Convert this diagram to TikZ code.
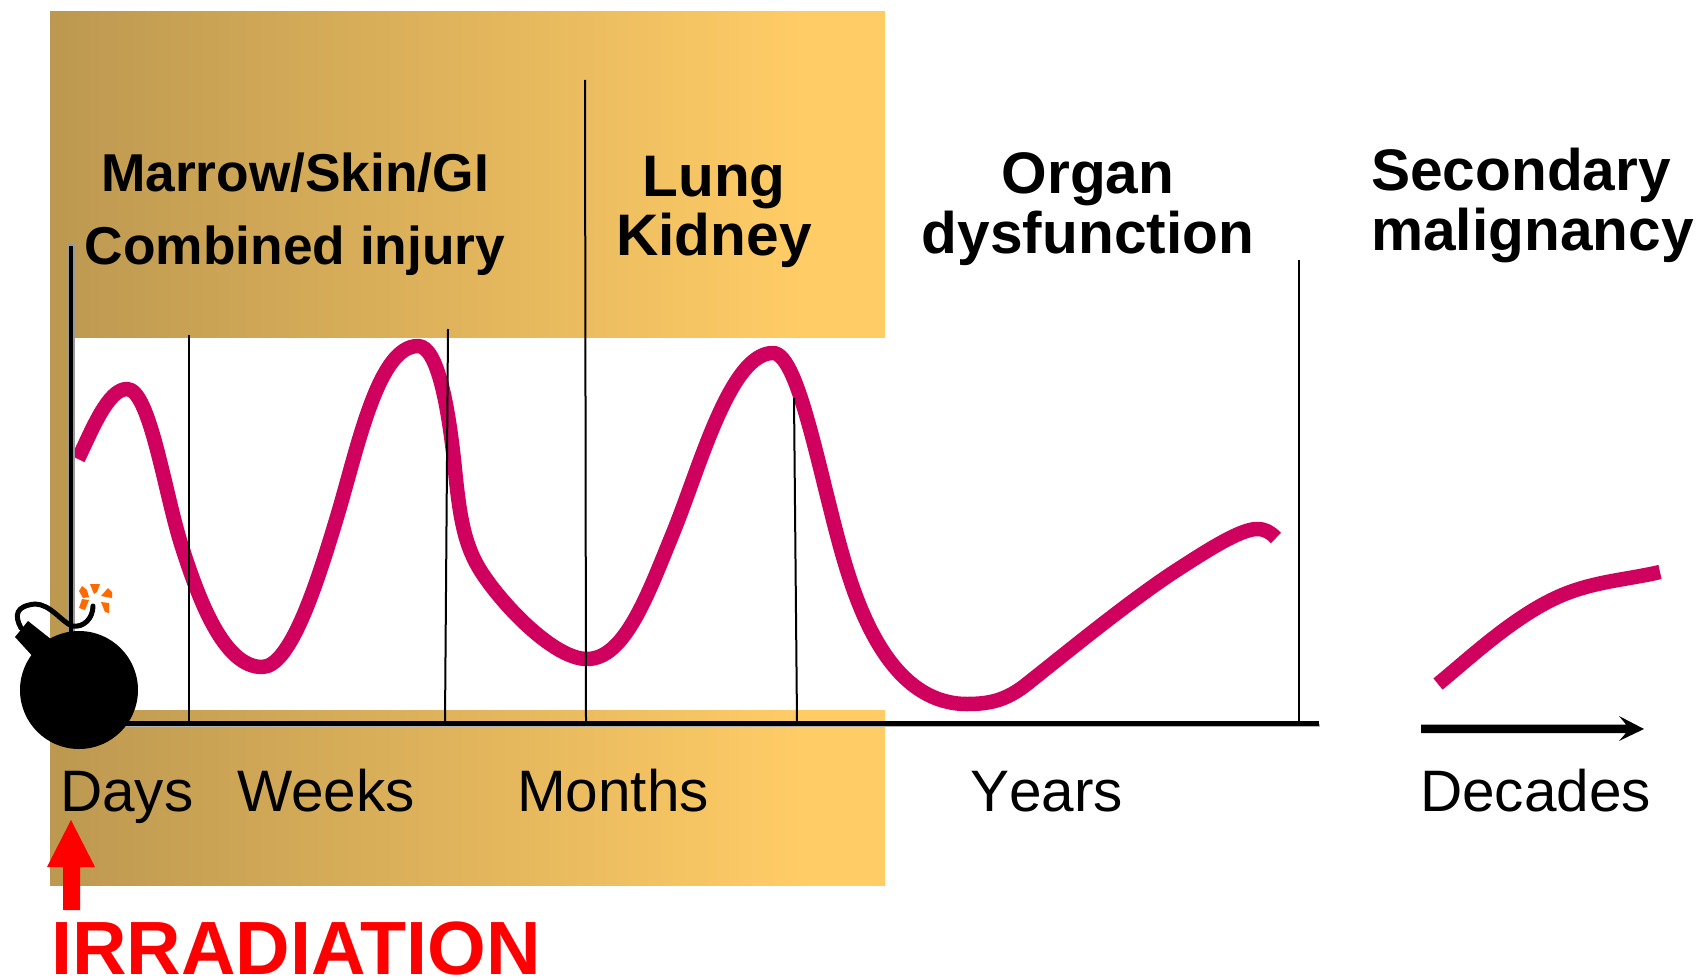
\documentclass[tikz,border=0pt]{standalone}
\usepackage{fontspec}
\setmainfont{Liberation Sans}
\tikzset{
  thinline/.style={black,line width=2pt},
  curve/.style={draw=curvecol,line width=14.5pt,line cap=butt,line join=round},
  head/.style={inner sep=0pt,font=\bfseries\fontsize{53.3}{64}\selectfont,align=center},
  bighead/.style={inner sep=0pt,font=\bfseries\fontsize{58.6}{59}\selectfont,align=center},
  lab/.style={inner sep=0pt,anchor=base west,font=\fontsize{58.5}{68}\selectfont},
  spark/.style={fill=sparkcol,draw=none}
}
\definecolor{curvecol}{HTML}{CF005E}
\definecolor{sparkcol}{HTML}{FF6A00}
\definecolor{gl}{HTML}{BC9850}
\definecolor{gr}{HTML}{FFCC66}
\pgfdeclarehorizontalshading{panelband}{100bp}{color(0bp)=(gl); color(25bp)=(gl); color(70bp)=(gr); color(100bp)=(gr)}
\begin{document}
\begin{tikzpicture}[x=1pt,y=-1pt]
\useasboundingbox (0,0) rectangle (1697,979);
% gradient panel
\shade[shading=panelband] (50,12) rectangle (885,885);
\fill[white] (70,338) rectangle (886,710);
% curves
\draw[curve] (78,459) .. controls (92,430) and (108,389) .. (127,389)
  .. controls (150,389) and (165,495) .. (182,547)
  .. controls (199,600) and (224,667) .. (262,667)
  .. controls (290,667) and (316,587) .. (337,517)
  .. controls (358,447) and (378,346) .. (418,346)
  .. controls (438,346) and (449,410) .. (455,470)
  .. controls (460,520) and (465,547) .. (482,573)
  .. controls (505,608) and (555,659) .. (587,659)
  .. controls (625,659) and (648,594) .. (673,533)
  .. controls (700,467) and (730,353) .. (773,353)
  .. controls (800,353) and (822,490) .. (847,570)
  .. controls (866,631) and (900,704) .. (967,704)
  .. controls (990,704) and (1005,700) .. (1023,687)
  .. controls (1060,658) and (1130,600) .. (1180,568)
  .. controls (1205,552) and (1240,529) .. (1257,529)
  .. controls (1265,529) and (1270,532) .. (1276,538);
\draw[curve] (1438,684) .. controls (1470,658) and (1520,610) .. (1570,592)
  .. controls (1600,581) and (1630,579) .. (1660,572);
% verticals
\fill[gray!80] (67.5,243.5) rectangle (75,632);
\fill[black] (68.5,246) rectangle (73,640);
\draw[thinline] (189,335) -- (189,722);
\draw[thinline] (448,329) -- (445,722);
\draw[thinline] (585,80) -- (586,722);
\draw[thinline] (794,398) -- (797,722);
\draw[thinline] (1299,260) -- (1299,722);
% axis
\fill[gray!60] (110,724) rectangle (1320,727);
\draw[black,line width=4.5pt] (110,723.3) -- (1319,723.3);
% decades arrow
\fill[black] (1421,724.5) -- (1626,724.5) -- (1619,716) -- (1644,729) -- (1619,741) -- (1626,733) -- (1421,733) -- cycle;
% bomb
\fill[black] (79,690) circle (59);
\fill[black] (15,637) -- (28,621) -- (52,640) -- (36,660) -- cycle;
\draw[black,line width=5pt,line cap=round] (21,628) .. controls (14,615) and (16,606) .. (35,604)
  .. controls (50,604) and (62,622) .. (72,626)
  .. controls (84,628) and (93,618) .. (93,606);
\fill[spark] (82,586) -- (87,590) -- (89,597) -- (83,598) -- (79,591) -- cycle;
\fill[spark] (90,584) -- (100,584) -- (97,592) -- (94,594) -- cycle;
\fill[spark] (108,588) -- (112,592) -- (112,598) -- (101,596) -- cycle;
\fill[spark] (82,599) -- (89,600) -- (85,610) -- (79,608) -- cycle;
\fill[spark] (101,602) -- (109,603) -- (109,613) -- (105,612) -- cycle;
% red arrow
\fill[red] (63,910) -- (80,910) -- (80,867) -- (95,867) -- (71,820) -- (47,867) -- (63,867) -- cycle;
% headings
\node[head] (marrow) at (295,173) {Marrow/Skin/GI};
\node[head] (combined) at (295,251) {Combined injury};
\node[bighead] (lung) at (714,183) {Lung};
\node[bighead] (kidney) at (714,240) {Kidney};
\node[bighead] (organ) at (1088,179) {Organ};
\node[bighead] (dysf) at (1088,238) {dysfunction};
\node[bighead,anchor=west] (secondary) at (1371,175) {Secondary};
\node[bighead,anchor=west] (malign) at (1371,235) {malignancy};
% axis labels
\node[lab] (days) at (60,811) {Days};
\node[lab] (weeks) at (237,811) {Weeks};
\node[lab] (months) at (517,811) {Months};
\node[lab] (years) at (970,811) {Y\kern0pt ears};
\node[lab] (decades) at (1420,811) {Decades};
\node[inner sep=0pt,anchor=base west,text=red,font=\bfseries\fontsize{75.5}{80}\selectfont] (irr) at (51,974) {IRRADIATION};
\end{tikzpicture}
\end{document}
